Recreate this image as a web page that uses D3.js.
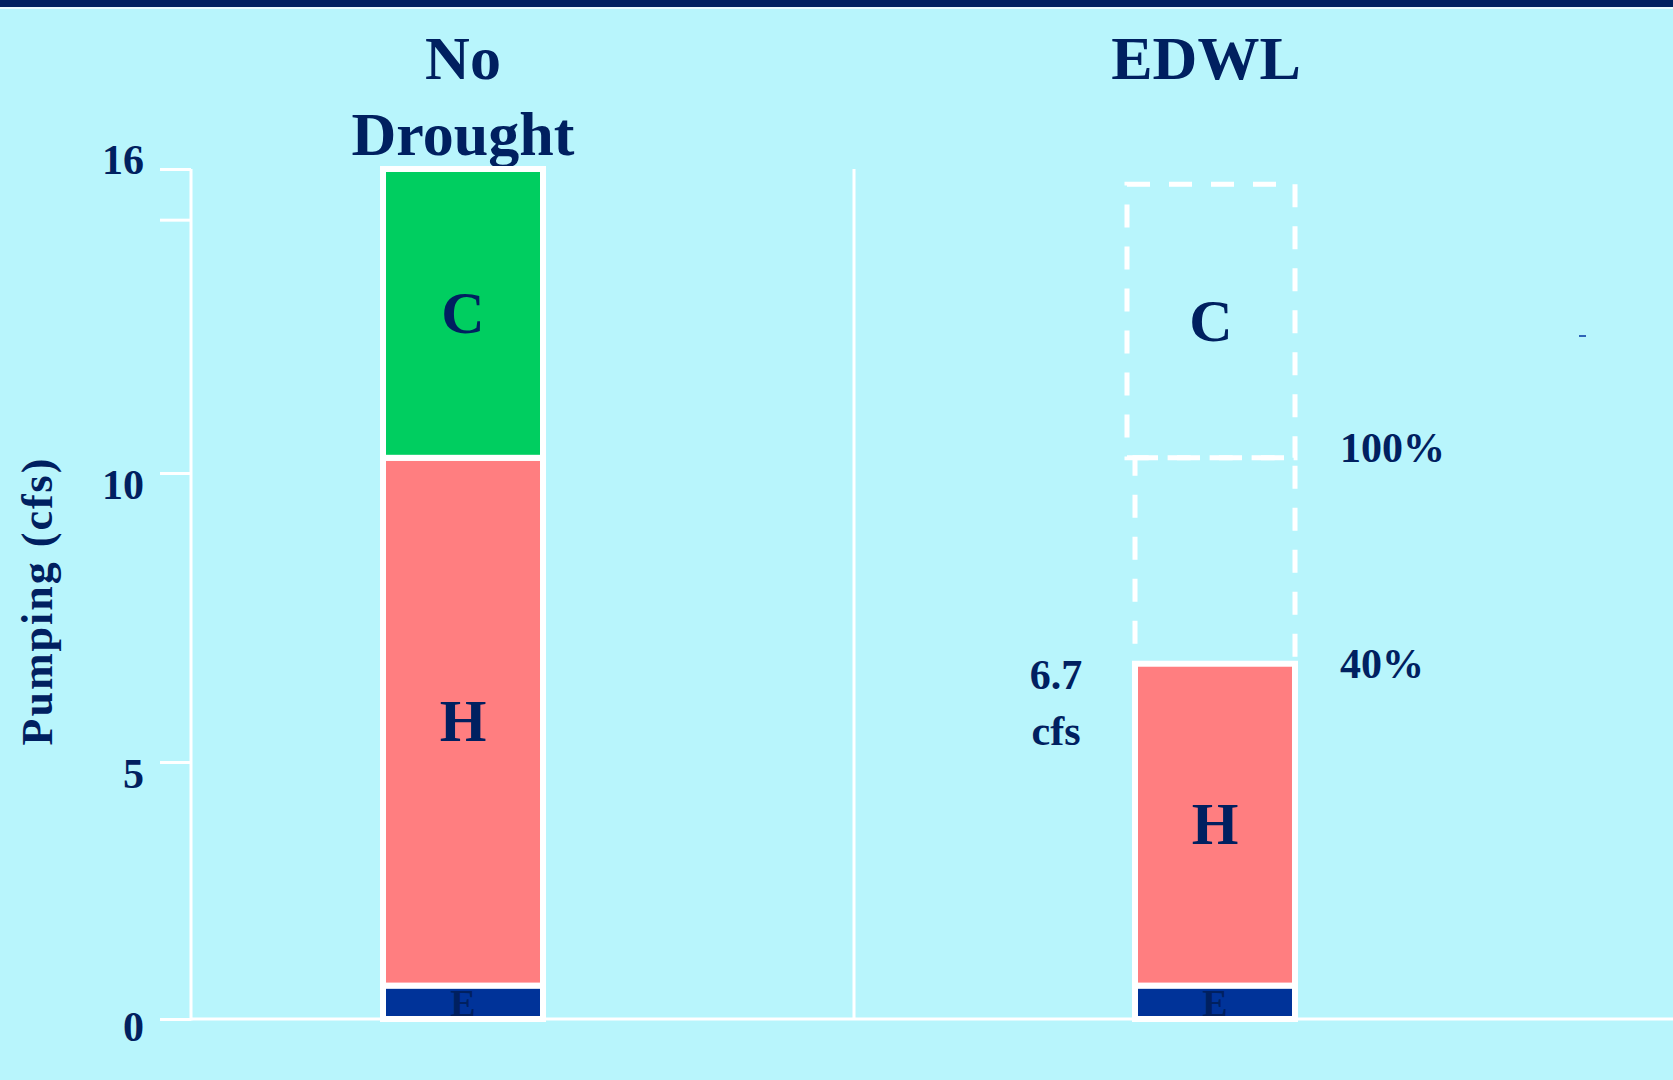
<!DOCTYPE html>
<html>
<head>
<meta charset="utf-8">
<script src="https://cdn.jsdelivr.net/npm/d3@7"></script>
<style>
  html, body { margin: 0; padding: 0; background: #B8F5FC; }
  svg { display: block; }
  text { font-family: "Liberation Serif", "DejaVu Serif", serif; font-weight: bold; fill: #002060; }
</style>
</head>
<body>
<svg id="chart" width="1673" height="1080"></svg>
<script>
// ---- data (cfs) ----
const categories = ["No Drought", "EDWL"];
const titleLines = [["No", "Drought"], ["EDWL"]];
const segmentKeys = ["E", "H", "C"];
const eValues = [0.65, 0.65];
const hValues = [9.65, 6.05];     // EDWL total pumping = 6.7 cfs
const cValues = [5.7, 0];
// dashed outline of the pumping that is cut back under EDWL
const ghostHRange = [6.7, 10.3];
const ghostCRange = [10.3, 15.7];
const pctTexts = ["100%", "40%"];
const pctLevels = [10.3, 6.7];
const cutLabelLines = ["6.7", "cfs"];
const cutLabelValue = 6.7;
const yTicks = [0, 5, 10, 15, 16];
const yTickLabels = ["0", "5", "10", "", "16"];
const yAxisTitle = "Pumping (cfs)";

// ---- layout ----
const W = 1673, H = 1080;
const axisX = 191;
const barW = 160;
const pctDy = [4, 14];
const colours = { E: "#003399", H: "#FF7E80", C: "#00CE60" };
const svg = d3.select("#chart");

svg.append("rect").attr("width", W).attr("height", H).attr("fill", "#B8F5FC");
svg.append("rect").attr("width", W).attr("height", 7).attr("fill", "#002060");
svg.append("rect").attr("y", 7).attr("width", W).attr("height", 2).attr("fill", "#E6FBFE");

// piecewise linear axis, following the hand-set tick spacing
const y = d3.scaleLinear()
  .domain([0, 5, 10, 16])
  .range([1019, 762, 473, 169]);

const x = d3.scalePoint()
  .domain(categories)
  .range([463, 1215]);

// y axis
const yAxis = d3.axisLeft(y)
  .tickValues(yTicks)
  .tickFormat((d, i) => yTickLabels[i])
  .tickSize(31)
  .tickPadding(16);

const gy = svg.append("g").attr("transform", `translate(${axisX},0)`).call(yAxis);
gy.select(".domain").remove();
gy.selectAll(".tick line").attr("stroke", "#fff").attr("stroke-width", 3);
gy.selectAll(".tick text")
  .attr("font-size", 42)
  .attr("fill", "#002060")
  .attr("font-family", "Liberation Serif, serif")
  .attr("font-weight", "bold")
  .attr("dy", d => d === 16 ? "0.1em" : (d === 0 ? "0.52em" : "0.6em"));

// axis lines
svg.append("line")
  .attr("x1", axisX).attr("x2", axisX)
  .attr("y1", y(16)).attr("y2", y(0) + 1.5)
  .attr("stroke", "#fff").attr("stroke-width", 3);
svg.append("line")
  .attr("x1", axisX).attr("x2", W)
  .attr("y1", y(0)).attr("y2", y(0))
  .attr("stroke", "#fff").attr("stroke-width", 3);
// divider between the two cases
svg.append("line")
  .attr("x1", 854).attr("x2", 854)
  .attr("y1", y(16)).attr("y2", y(0))
  .attr("stroke", "#fff").attr("stroke-width", 3);

// y axis title
svg.append("text")
  .attr("transform", `translate(52,${601}) rotate(-90)`)
  .attr("text-anchor", "middle")
  .attr("font-size", 44)
  .attr("letter-spacing", 2)
  .text(yAxisTitle);

// column titles
categories.forEach((c, i) => {
  const t = svg.append("text")
    .attr("text-anchor", "middle")
    .attr("font-size", 62);
  titleLines[i].forEach((line, j) => {
    t.append("tspan")
      .attr("x", x(c) - (i === 1 ? 9 : 0))
      .attr("y", 79 + j * 76)
      .text(line);
  });
});

// dashed outlines (drawn below the solid bars)
const edwl = categories[1];
svg.append("rect")
  .attr("x", x(edwl) - barW / 2)
  .attr("width", barW)
  .attr("y", y(ghostHRange[1]))
  .attr("height", y(ghostHRange[0]) - y(ghostHRange[1]))
  .attr("fill", "none").attr("stroke", "#fff")
  .attr("stroke-width", 5).attr("stroke-dasharray", "23 19");
svg.append("rect")
  .attr("x", x(edwl) - barW / 2 - 8)
  .attr("width", barW + 8)
  .attr("y", y(ghostCRange[1]))
  .attr("height", y(ghostCRange[0]) - y(ghostCRange[1]))
  .attr("fill", "none").attr("stroke", "#fff")
  .attr("stroke-width", 5).attr("stroke-dasharray", "23 19");
svg.append("text")
  .attr("x", x(edwl) - 4)
  .attr("y", y((ghostCRange[0] + ghostCRange[1]) / 2))
  .attr("dy", "0.33em")
  .attr("text-anchor", "middle")
  .attr("font-size", 60)
  .text("C");

// stacked bars
const rows = categories.map((c, i) => ({ cat: c, E: eValues[i], H: hValues[i], C: cValues[i] }));
const stacked = d3.stack().keys(segmentKeys)(rows);

stacked.forEach(layer => {
  const key = layer.key;
  layer.forEach(seg => {
    const [v0, v1] = seg;
    if (v1 - v0 <= 0) return;
    const cx = x(seg.data.cat);
    svg.append("rect")
      .attr("x", cx - barW / 2)
      .attr("width", barW)
      .attr("y", y(v1))
      .attr("height", y(v0) - y(v1))
      .attr("fill", colours[key])
      .attr("stroke", "#fff")
      .attr("stroke-width", 6);
  });
});

stacked.forEach(layer => {
  const key = layer.key;
  layer.forEach(seg => {
    const [v0, v1] = seg;
    if (v1 - v0 <= 0) return;
    const cx = x(seg.data.cat);
    const small = key === "E";
    svg.append("text")
      .attr("x", cx)
      .attr("y", (y(v0) + y(v1)) / 2)
      .attr("dy", small ? "0.36em" : "0.33em")
      .attr("text-anchor", "middle")
      .attr("font-size", small ? 38 : 60)
      .attr("fill", small ? "#0B2466" : "#002060")
      .text(key);
  });
});

// percentage labels beside the EDWL column
pctTexts.forEach((t, i) => {
  svg.append("text")
    .attr("x", x(edwl) + barW / 2 + 45)
    .attr("y", y(pctLevels[i]) + pctDy[i])
    .attr("font-size", 42)
    .text(t);
});

// reduced pumping value
const cut = svg.append("text")
  .attr("text-anchor", "middle")
  .attr("font-size", 42);
cutLabelLines.forEach((line, j) => {
  cut.append("tspan")
    .attr("x", x(edwl) - barW / 2 - 79)
    .attr("y", y(cutLabelValue) + 25 + j * 56)
    .text(line);
});

// small stray mark at the right
svg.append("line")
  .attr("x1", 1579).attr("x2", 1586)
  .attr("y1", 336).attr("y2", 336)
  .attr("stroke", "#0033A0").attr("stroke-width", 1.5);
</script>
</body>
</html>
